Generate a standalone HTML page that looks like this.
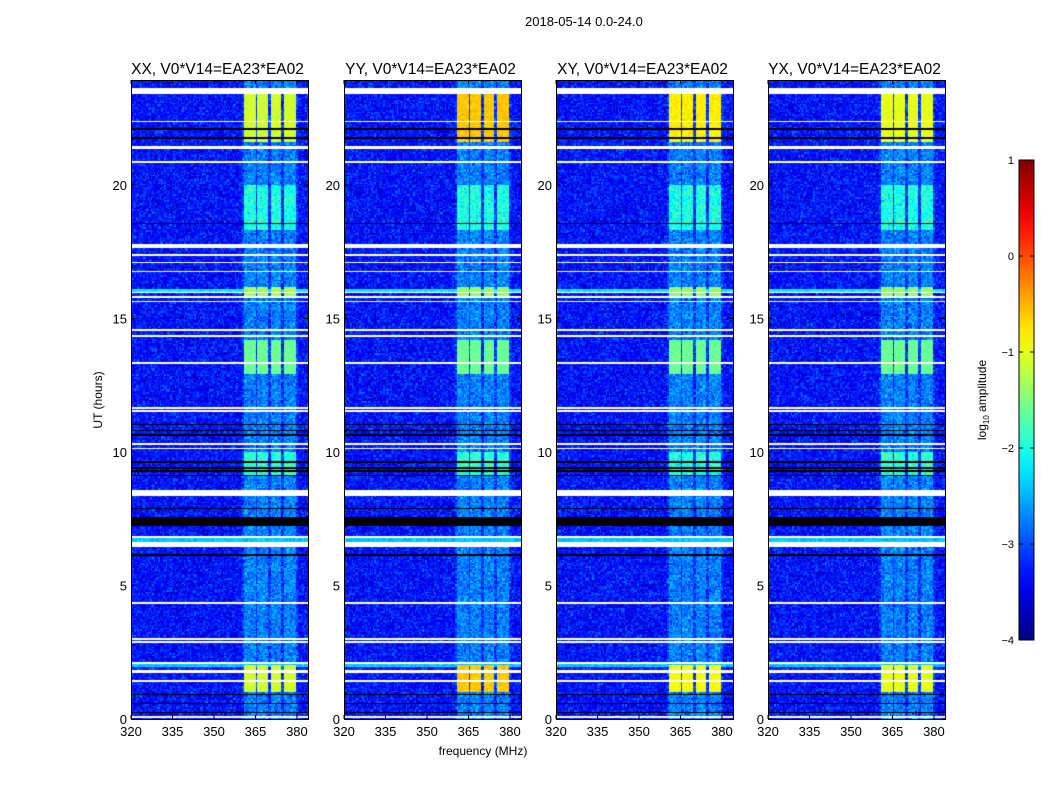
<!DOCTYPE html>
<html><head><meta charset="utf-8"><style>
body{margin:0;background:#fff;width:1050px;height:800px;overflow:hidden;font-family:"Liberation Sans",sans-serif;}
#root{position:relative;width:1050px;height:800px;}
.t{position:absolute;color:#000;white-space:nowrap;}
canvas{position:absolute;}
</style></head><body>
<div id="root">
<div class="t" style="left:525px;top:14px;font-size:13px;">2018-05-14 0.0-24.0</div>
<svg id="ax" width="1050" height="800" style="position:absolute;left:0;top:0"></svg>
</div>
<script>
// ---- data (hours / MHz / log10 amplitude) ----
const panelTitles=["XX, V0*V14=EA23*EA02","YY, V0*V14=EA23*EA02","XY, V0*V14=EA23*EA02","YX, V0*V14=EA23*EA02"];
const xTicks=[320,335,350,365,380];
const yTicks=[0,5,10,15,20];
const cbTicks=[1,0,-1,-2,-3,-4];
const flaggedWhite=[[23.45,23.63],[22.36,22.42],[21.35,21.46],[20.83,20.88],[18.96,19.01],[17.64,17.83],[17.35,17.40],[17.09,17.14],[16.75,16.80],[15.96,16.03],[15.78,15.83],[15.63,15.68],[14.54,14.59],[14.31,14.36],[13.34,13.39],[12.67,12.72],[11.62,11.67],[11.51,11.56],[10.27,10.32],[10.12,10.17],[8.35,8.61],[6.94,6.99],[6.79,6.84],[6.44,6.63],[4.31,4.36],[3.00,3.05],[2.85,2.90],[2.10,2.15],[1.76,1.87],[1.43,1.48],[0.08,0.13]];
const flaggedBlack=[[22.10,22.16],[21.73,21.79],[18.51,18.57],[11.0,11.05],[10.8,10.85],[10.6,10.65],[9.6,9.65],[9.4,9.45],[9.28,9.33],[9.1,9.15],[7.87,7.92],[7.27,7.6],[6.1,6.2],[0.88,0.93],[0.54,0.59],[0.24,0.29]];
const bandTimes=[[21.6,23.4],[18.3,20.0],[15.85,16.15],[12.9,14.2],[9.1,10.0],[1.0,2.0]];
const bandXX=[-1.1,-2.0,-1.3,-1.6,-1.9,-1.1];
const bandYY=[-0.6,-2.0,-1.4,-1.6,-1.9,-0.6];
const bandXY=[-0.8,-2.0,-1.4,-1.6,-2.0,-0.9];
const bandYX=[-1.0,-2.0,-1.4,-1.6,-1.9,-1.0];
const bandBase=-2.75, background=-3.3;
const rfiBlocks=[[360.5,364.8],[365.5,369.5],[370.2,374.5],[375.3,379.6]];
const cyanRows=[[16.0,16.12,-2.2],[6.64,6.78,-2.4],[1.95,2.1,-2.4]];
// ---- geometry ----
const lefts=[131,344,556,768], PW=177, TOP=80, PH=639;
const fmin=320, fmax=384, tmax=23.93;
const fx=f=>(f-fmin)/(fmax-fmin)*PW;
const ty=t=>PH-t/tmax*PH;
function jet(v){let x=(v+4)/5;x=Math.max(0,Math.min(1,x));
 const c=u=>Math.max(0,Math.min(1,1.5-Math.abs(4*x-u)));
 return [c(3)*255,c(2)*255,c(1)*255];}
function hash(i,j,k){let h=(i*374761393+j*668265263+k*2147483647)|0;h=(h^(h>>>13))*1274126177|0;return ((h^(h>>>16))>>>0)/4294967295;}
const bands=[bandXX,bandYY,bandXY,bandYX];
const root=document.getElementById('root');
const svg=document.getElementById('ax');const NS="http://www.w3.org/2000/svg";
function st(tag,a){const e=document.createElementNS(NS,tag);for(const k in a)e.setAttribute(k,a[k]);svg.appendChild(e);return e;}
const inR=(t,arr)=>arr.some(r=>t>=r[0]&&t<=r[1]);
lefts.forEach((L,p)=>{
 const cv=document.createElement('canvas');cv.width=PW;cv.height=PH;cv.style.left=L+'px';cv.style.top=TOP+'px';
 
 
 root.insertBefore(cv,svg);
 const ctx=cv.getContext('2d');const img=ctx.createImageData(PW,PH);const d=img.data;
 const cs=1.5;
 for(let y=0;y<PH;y++){const row=Math.floor(y/cs);const t=(PH-(row+0.5)*cs)/PH*tmax;
  let white=inR(t,flaggedWhite), black=inR(t,flaggedBlack);
  let cyan=cyanRows.find(r=>t>=r[0]&&t<=r[1]);
  for(let x=0;x<PW;x++){const col=Math.floor(x/cs);const f=fmin+(col+0.5)*cs/PW*(fmax-fmin);
   let r,g,b;
   if(white){r=g=b=255;}else if(black){r=g=b=0;}else{
    const n=(hash(col,row,p)+hash(col+7,row+3,p+1)-1)*0.55;
    let v=cyan?cyan[2]+n*0.5:background+n;
    const blk=rfiBlocks.some(q=>f>=q[0]&&f<=q[1]);
    if(blk){let lv=bandBase;bandTimes.forEach((bt,i)=>{if(t>=bt[0]&&t<=bt[1])lv=bands[p][i];});
     v=Math.max(v,lv+n*(lv>-1.8?0.3:0.9));}
    else if(f>360&&f<380){v=Math.max(v,bandBase-0.35+n);}
    [r,g,b]=jet(v);}
   const k=(y*PW+x)*4;d[k]=r;d[k+1]=g;d[k+2]=b;d[k+3]=255;}}
 ctx.putImageData(img,0,0);
 st('rect',{x:L+0.5,y:TOP+0.5,width:PW,height:PH,fill:'none',stroke:'#000','stroke-width':1,});
 const tt=st('text',{x:L+PW/2-2,y:74,'text-anchor':'middle','font-size':15.5,'font-family':'Liberation Sans',});tt.textContent=panelTitles[p];
 xTicks.forEach(f=>{const X=L+fx(f);st('line',{x1:X,x2:X,y1:TOP+PH,y2:TOP+PH-4,stroke:'#000'});st('line',{x1:X,x2:X,y1:TOP,y2:TOP+4,stroke:'#000'});
  const e=st('text',{x:X,y:TOP+PH+17,'text-anchor':'middle','font-size':13,'font-family':'Liberation Sans',});e.textContent=f;});
 yTicks.forEach(h=>{const Y=TOP+ty(h);st('line',{x1:L,x2:L+4,y1:Y,y2:Y,stroke:'#000'});st('line',{x1:L+PW,x2:L+PW-4,y1:Y,y2:Y,stroke:'#000'});
  const e=st('text',{x:L-4,y:Y+5,'text-anchor':'end','font-size':13,'font-family':'Liberation Sans',});e.textContent=h;});
});
let e=st('text',{x:483,y:755,'text-anchor':'middle','font-size':12,'font-family':'Liberation Sans',});e.textContent='frequency (MHz)';
e=st('text',{x:0,y:0,'text-anchor':'middle','font-size':12,'font-family':'Liberation Sans',transform:'translate(102,400) rotate(-90)',});e.textContent='UT (hours)';
// colorbar
const CX=1019,CY=160,CW=15,CH=480;
const defs=st('defs',{});const lg=document.createElementNS(NS,'linearGradient');lg.setAttribute('id','jg');lg.setAttribute('x1',0);lg.setAttribute('y1',1);lg.setAttribute('x2',0);lg.setAttribute('y2',0);defs.appendChild(lg);
for(let i=0;i<=20;i++){const c=jet(-4+5*i/20);const s=document.createElementNS(NS,'stop');s.setAttribute('offset',i/20);s.setAttribute('stop-color',`rgb(${c.map(Math.round)})`);lg.appendChild(s);}
st('rect',{x:CX,y:CY,width:CW,height:CH,fill:'url(#jg)',stroke:'#000',});
cbTicks.forEach(v=>{const Y=CY+(1-v)/5*CH;st('line',{x1:CX,x2:CX+4,y1:Y,y2:Y,stroke:'#000'});st('line',{x1:CX+CW,x2:CX+CW-4,y1:Y,y2:Y,stroke:'#000'});
 const t=st('text',{x:CX-5,y:Y+4,'text-anchor':'end','font-size':11,'font-family':'Liberation Sans',});t.textContent=v<0?'\u2212'+(-v):v;});
e=st('text',{x:0,y:0,'text-anchor':'middle','font-size':12,'font-family':'Liberation Sans',transform:'translate(986,400) rotate(-90)',});
e.innerHTML='log<tspan font-size="8" dy="3">10</tspan><tspan dy="-3"> amplitude</tspan>';
</script>
</body></html>
